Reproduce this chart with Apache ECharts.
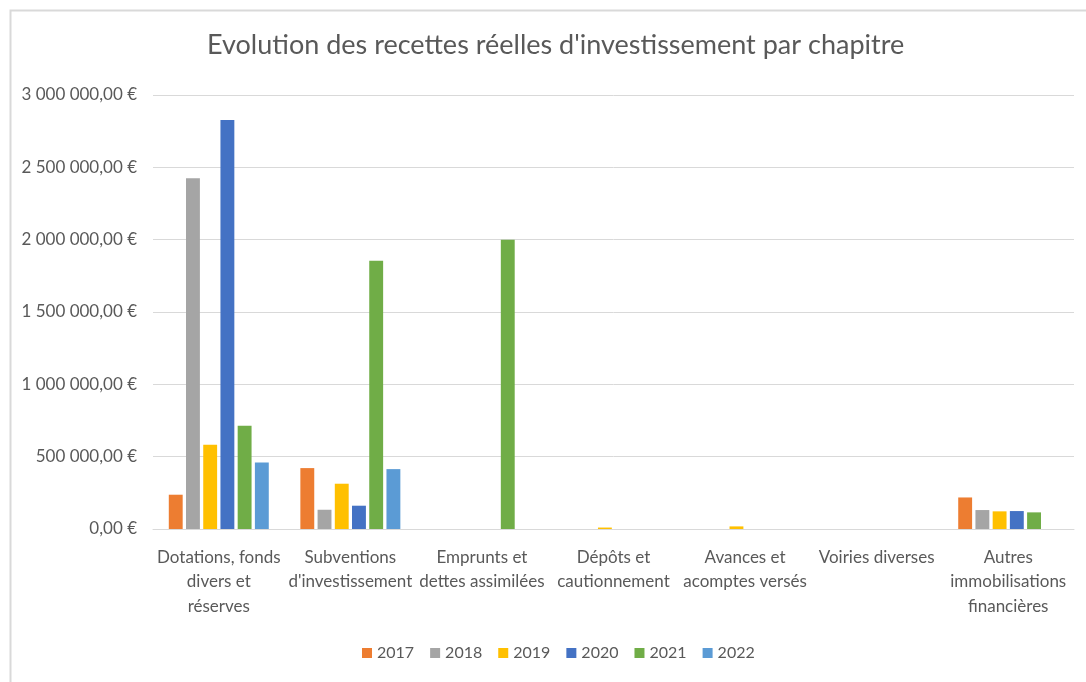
<!DOCTYPE html>
<html>
<head>
<meta charset="utf-8">
<script src="https://cdn.jsdelivr.net/npm/echarts@6/dist/echarts.min.js"></script>
<style>
  html, body { margin: 0; padding: 0; background: #fff; }
  #chart { width: 1086px; height: 682px; }
</style>
</head>
<body>
<div id="chart"></div>
<script>
// chapitres (axe des catégories)
const categories = [
  'Dotations, fonds\ndivers et\nréserves',
  "Subventions\nd'investissement",
  'Emprunts et\ndettes assimilées',
  'Dépôts et\ncautionnement',
  'Avances et\nacomptes versés',
  'Voiries diverses',
  'Autres\nimmobilisations\nfinancières'
]

const years = ['2017', '2018', '2019', '2020', '2021', '2022']
const colors = ['#ed7d31', '#a5a5a5', '#ffc000', '#4472c4', '#70ad47', '#5b9bd5']

// montants (€)
const v2017 = [237000, 421000, 0, 0, 0, 0, 218000]
const v2018 = [2424000, 133000, 0, 0, 0, 0, 131000]
const v2019 = [582000, 313000, 0, 10000, 18000, 0, 122000]
const v2020 = [2827000, 161000, 0, 0, 0, 0, 124000]
const v2021 = [714000, 1855000, 2000000, 0, 0, 0, 115000]
const v2022 = [460000, 414000, 0, 0, 0, 0, 0]
const seriesValues = [v2017, v2018, v2019, v2020, v2021, v2022]

const yTicks = [0, 500000, 1000000, 1500000, 2000000, 2500000, 3000000]

const font = 'Lato, "Open Sans", sans-serif'
const grey = '#595959'

function formatEuro(v) {
  const parts = Math.round(v).toString().replace(/\B(?=(\d{3})+(?!\d))/g, ' ')
  return parts + ',00 €'
}

const chart = echarts.init(document.getElementById('chart'))

chart.setOption({
  animation: false,
  textStyle: { fontFamily: font },
  title: {
    text: "Evolution des recettes réelles d'investissement par chapitre",
    left: 202,
    top: 27,
    textStyle: { fontFamily: font, fontSize: 27, fontWeight: 'normal', color: grey }
  },
  graphic: [{
    type: 'rect',
    shape: { x: 10.5, y: 10.5, width: 1200, height: 800 },
    style: { fill: 'none', stroke: '#d9d9d9', lineWidth: 2 },
    silent: true
  }],
  legend: {
    bottom: 16,
    left: 357,
    itemWidth: 10,
    itemHeight: 10,
    itemGap: 16,
    icon: 'rect',
    textStyle: { fontFamily: font, fontSize: 16, color: grey },
    data: years
  },
  grid: { left: 153, right: 12, top: 95, bottom: 153 },
  xAxis: {
    type: 'category',
    data: categories,
    axisTick: { show: false },
    axisLine: { lineStyle: { color: '#d9d9d9', width: 1 } },
    axisLabel: {
      interval: 0,
      fontFamily: font,
      fontSize: 17,
      color: grey,
      lineHeight: 24.5,
      margin: 16
    }
  },
  yAxis: {
    type: 'value',
    min: 0,
    max: 3000000,
    interval: 500000,
    axisLine: { show: false },
    axisTick: { show: false },
    splitLine: { lineStyle: { color: '#d9d9d9', width: 1 } },
    axisLabel: {
      fontFamily: font,
      fontSize: 17,
      color: grey,
      margin: 16,
      formatter: v => (yTicks.includes(v) ? formatEuro(v) : '')
    }
  },
  series: years.map((y, i) => ({
    name: y,
    type: 'bar',
    data: seriesValues[i],
    barGap: '24%',
    barCategoryGap: '24%',
    itemStyle: { color: colors[i] }
  }))
})
</script>
</body>
</html>
